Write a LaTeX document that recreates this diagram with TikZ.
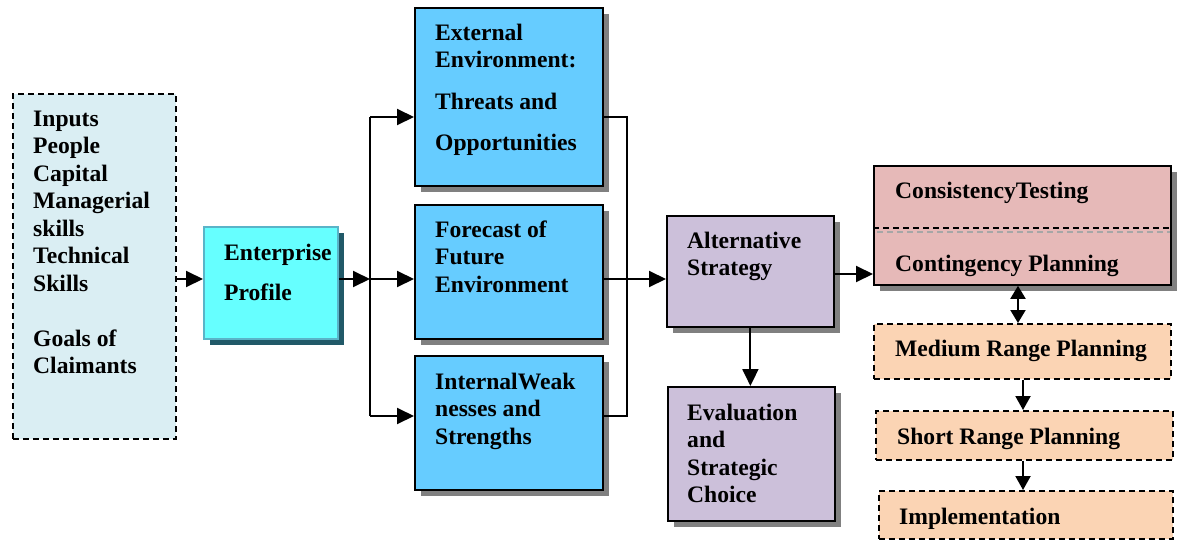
\documentclass[tikz,border=0pt]{standalone}
\usepackage{fontspec}
\setmainfont{Liberation Serif}
\usetikzlibrary{arrows.meta,shadows}
\definecolor{inputbg}{HTML}{DAEEF3}
\definecolor{profbg}{HTML}{66FFFF}
\definecolor{profline}{HTML}{5AB4C8}
\definecolor{profshadow}{HTML}{215968}
\definecolor{envbg}{HTML}{66CCFF}
\definecolor{stratbg}{HTML}{CCC0DA}
\definecolor{testbg}{HTML}{E6B9B8}
\definecolor{planbg}{HTML}{FBD4B4}
\newcommand{\firstline}{\rule{0pt}{17pt}}
\begin{document}
\begin{tikzpicture}[x=1pt,y=-1pt,
  box/.style={draw=black, line width=1.8pt, anchor=north west, inner sep=0pt},
  shadowed/.style={drop shadow={shadow xshift=6pt, shadow yshift=-6pt, fill=#1, opacity=1}},
  shadowed/.default=black!50,
  dbox/.style={draw=black, line width=1.6pt, dash pattern=on 6pt off 4pt, anchor=north west, inner sep=0pt},
  txt/.style={font=\bfseries\fontsize{23.6}{27.5}\selectfont, align=left, anchor=north west, inner sep=0pt},
  conn/.style={line width=2pt, -{Triangle[length=17pt,width=16pt]}},
  small/.style={-{Triangle[length=14pt,width=15pt]}},
  link/.style={line width=1.5pt},
]
\useasboundingbox (0,0) rectangle (1181,541);

% boxes
\node[dbox, fill=inputbg, minimum width=163pt, minimum height=345pt] (inputs) at (12,93) {};
\node[box, draw=profline, fill=profbg, shadowed=profshadow, minimum width=134pt, minimum height=112pt] (prof) at (203,226) {};
\node[box, fill=envbg, shadowed, minimum width=188pt, minimum height=178pt] (ext) at (414,7) {};
\node[box, fill=envbg, shadowed, minimum width=188pt, minimum height=134pt] (fore) at (414,204) {};
\node[box, fill=envbg, shadowed, minimum width=188pt, minimum height=134pt] (intl) at (414,355) {};
\node[box, fill=stratbg, shadowed, minimum width=167pt, minimum height=111pt] (alt) at (666,215) {};
\node[box, fill=stratbg, shadowed, minimum width=167pt, minimum height=134pt] (eval) at (667,386) {};
\node[box, fill=testbg, shadowed, minimum width=297pt, minimum height=119pt] (cons) at (873,165) {};
\node[dbox, fill=planbg, minimum width=297pt, minimum height=55pt] (med) at (873,323) {};
\node[dbox, fill=planbg, minimum width=297pt, minimum height=49pt] (short) at (875,410) {};
\node[dbox, fill=planbg, minimum width=294pt, minimum height=48pt] (impl) at (878,490) {};

% divider inside the testing box
\draw[line width=1.2pt, dash pattern=on 6pt off 4pt] (cons.west |- 0,228) -- (cons.east |- 0,228);
\draw[line width=1.2pt, gray!70, dash pattern=on 6pt off 4pt] ([xshift=4pt]cons.west |- 0,232) -- ([xshift=-2pt]cons.east |- 0,232);

% texts (first baseline sits 17pt below the given point)
\node[txt] (t-inputs) at (33,109) {\firstline Inputs\\People\\Capital\\Managerial\\skills\\Technical\\Skills\\[27.5pt]Goals of\\Claimants};
\node[txt] (t-prof) at (224,243) {\firstline Enterprise\\[13pt]Profile};
\node[txt] (t-ext) at (435,23) {\firstline External\\Environment:\\[14pt]Threats and\\[13.5pt]Opportunities};
\node[txt] (t-fore) at (435,220) {\firstline Forecast of\\Future\\Environment};
\node[txt] (t-intl) at (435,372) {\firstline InternalWeak\\nesses and\\Strengths};
\node[txt] (t-alt) at (687,231) {\firstline Alternative\\Strategy};
\node[txt] (t-eval) at (687,403) {\firstline Evaluation\\and\\Strategic\\Choice};
\node[txt] (t-cons) at (895,181) {\firstline ConsistencyTesting};
\node[txt] (t-cont) at (895,254) {\firstline Contingency Planning};
\node[txt] (t-med) at (895,339) {\firstline Medium Range Planning};
\node[txt] (t-short) at (897,427) {\firstline Short Range Planning};
\node[txt] (t-impl) at (899,507) {\firstline Implementation};

% connectors
\coordinate (hub) at (370,279);
\coordinate (top) at (370,117);
\coordinate (bot) at (370,416);
\coordinate (rtop) at (627,117);
\coordinate (rbot) at (627,416);
\draw[conn] (inputs.east |- hub) -- (prof.west |- hub);
\draw[conn] (prof.east |- hub) -- (hub);
\draw[line width=2pt] (top) -- (bot);
\draw[conn] (top) -- (top -| ext.west);
\draw[conn] (hub) -- (hub -| fore.west);
\draw[conn] (bot) -- (bot -| intl.west);
\draw[link] (rtop -| ext.east) -- (rtop) -- (rbot) -- (rbot -| intl.east);
\draw[conn] (fore.east |- hub) -- (alt.west |- hub);
\draw[conn] (alt.south) -- (alt.south |- eval.north);
\coordinate (side) at (0,274);
\draw[conn] (alt.east |- side) -- (cons.west |- side);
\coordinate (mid) at (1018,0);
\draw[line width=2pt, {Triangle[length=13pt,width=15pt]}-{Triangle[length=13pt,width=15pt]}] (mid |- cons.south) -- (mid |- med.north);
\coordinate (mid2) at (1023,0);
\draw[conn, small] (mid2 |- med.south) -- (mid2 |- short.north);
\draw[conn, small] (mid2 |- short.south) -- (mid2 |- impl.north);
\end{tikzpicture}
\end{document}
